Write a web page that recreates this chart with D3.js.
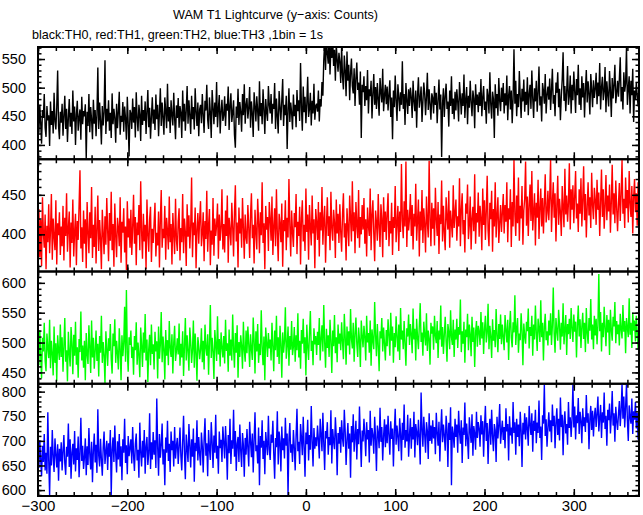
<!DOCTYPE html>
<html><head><meta charset="utf-8">
<script src="https://cdn.jsdelivr.net/npm/d3@7"></script>
<style>body{margin:0;background:#fff}svg{display:block}</style>
</head><body>
<svg id="c" width="643" height="515"></svg>
<script>
// time bins (1 bin = 1 s) start at -300 s
const timeStart = -300;
const th0 = [
455,421,470,438,402,461,447,489,430,414,468,443,452,398,476,435,459,420,491,441,427,466,530,433,410,458,
439,472,416,451,486,428,463,405,447,480,432,456,419,495,441,467,400,453,477,425,448,462,409,484,436,459,
450,471,376,458,433,489,422,466,444,410,479,437,461,415,453,535,428,474,442,401,468,434,457,548,419,463,
441,478,425,456,412,490,436,463,447,404,472,429,458,493,418,451,440,475,423,467,446,409,484,438,380,461,
455,428,481,439,466,413,492,447,424,470,453,407,486,435,461,442,476,419,458,496,431,465,411,449,483,437,
462,426,488,445,470,415,457,499,433,474,448,418,483,459,429,507,441,466,421,478,452,434,491,446,410,469,
447,482,430,468,456,412,495,441,472,425,460,503,437,478,451,419,486,445,466,427,499,458,433,474,415,462,
470,438,489,452,421,477,460,505,444,428,483,456,412,496,466,436,474,449,510,431,463,487,420,458,479,442,
451,485,433,472,460,502,426,468,490,440,456,478,418,395,467,447,498,435,475,458,423,489,452,506,437,470,
482,446,465,501,430,476,455,414,492,468,441,485,459,425,511,450,473,436,497,463,419,480,457,442,503,470,
455,489,437,472,463,508,428,481,450,420,494,466,443,478,515,433,470,452,486,393,461,499,440,474,456,427,
488,450,470,431,496,459,478,442,543,465,425,502,457,484,438,472,519,449,463,491,434,477,455,507,444,468,
472,458,495,441,480,467,510,486,548,579,531,585,560,542,590,523,571,552,583,538,566,512,575,549,528,561,
545,508,572,519,497,556,530,485,563,512,540,478,526,551,503,490,534,468,517,544,496,509,470,528,412,505,
492,520,468,503,478,531,455,497,485,512,446,489,524,470,501,463,508,480,451,517,492,474,533,459,486,505,
471,502,460,488,513,449,483,410,495,466,521,477,442,506,485,459,492,470,546,463,489,435,508,478,454,497,
468,500,483,447,512,476,459,495,430,487,518,465,481,502,440,474,509,490,452,484,526,461,497,471,444,490,
482,455,503,470,491,438,477,514,462,488,379,472,499,449,485,507,463,476,432,495,468,520,454,481,445,493,
460,497,475,441,510,484,453,490,468,523,447,479,501,436,486,465,512,474,450,495,481,429,506,470,488,457,
492,468,515,450,483,503,461,476,437,498,485,455,527,471,446,493,480,412,506,464,489,451,517,477,459,500,
475,508,455,490,469,521,443,486,503,462,495,438,481,567,472,512,450,489,466,529,484,447,498,476,514,458,
493,470,518,452,489,505,463,530,481,447,499,476,512,458,491,537,469,485,441,508,494,472,524,455,487,502,
479,516,461,495,533,472,487,450,509,491,527,466,498,443,484,514,562,477,503,459,492,538,470,486,521,455,
505,478,528,493,456,515,487,540,470,499,461,520,483,508,448,496,531,474,511,489,453,524,497,466,513,482,
498,526,471,509,485,543,462,500,519,478,494,536,457,511,488,467,529,495,449,517,481,505,540,473,490,512,
484,515,553,476,501,462,527,493,508,571,470,498,520,455,512,487,533,440,495,478,509,486,467,501,490,515
];
const th1 = [
395,432,371,418,360,447,402,383,425,356,411,390,438,376,405,451,368,420,397,380,443,362,414,399,428,374,
410,385,436,367,421,398,452,378,407,429,358,415,389,444,372,403,426,361,417,393,437,481,382,409,365,430,
388,419,357,441,403,376,428,395,460,370,412,384,435,363,406,449,379,418,394,356,431,401,375,423,387,446,
405,366,427,392,454,380,413,359,439,398,371,421,408,385,447,364,416,402,433,377,410,355,442,396,420,383,
431,374,409,450,388,422,361,415,399,437,380,467,404,369,426,391,412,356,444,400,378,419,435,365,407,389,
414,440,372,402,386,429,358,418,456,383,407,395,436,368,421,404,381,448,390,413,362,427,400,375,445,393,
379,416,433,367,408,390,451,376,420,403,360,438,397,424,382,410,472,371,415,399,434,357,406,427,388,419,
442,385,401,428,366,417,394,455,378,411,432,361,405,387,446,373,420,398,412,439,369,425,392,408,457,381,
413,377,430,398,449,364,421,405,386,440,410,372,427,462,391,415,358,434,401,420,383,446,408,369,425,396,
388,437,409,370,424,452,395,412,363,431,403,381,445,417,376,428,399,466,389,414,356,436,406,422,379,441,
419,392,448,374,410,433,385,457,401,366,426,414,390,439,359,418,404,443,380,421,396,470,411,372,430,402,
384,427,409,451,375,416,398,435,362,420,443,391,412,379,458,403,425,368,437,410,386,449,401,419,357,432,
415,393,441,372,428,405,460,387,419,436,364,411,447,398,423,380,454,407,392,431,415,370,444,401,426,389,
438,403,378,425,452,396,414,367,433,409,385,449,420,391,467,404,428,376,441,412,395,456,383,422,400,437,
406,446,388,419,372,434,411,398,458,380,425,443,401,366,430,415,392,451,409,384,438,420,371,447,403,429,
393,427,452,385,417,401,440,374,422,408,461,390,414,436,379,429,403,489,418,395,442,410,492,384,431,405,
420,451,398,437,381,426,410,464,392,418,444,372,429,405,456,389,433,412,377,448,415,396,493,421,385,440,
407,433,386,459,419,398,441,375,425,413,468,391,436,402,380,447,421,406,455,383,430,414,396,462,408,427,
444,392,423,410,471,385,431,452,400,418,377,439,426,463,394,412,448,381,420,435,404,476,388,427,415,453,
397,436,421,380,458,412,443,393,429,474,405,385,440,419,455,378,432,410,466,396,424,447,389,414,437,403,
428,451,401,437,416,466,390,433,419,457,384,441,410,494,425,398,449,414,472,392,436,420,461,387,430,445,
492,411,448,398,436,463,417,480,405,429,452,386,440,421,469,394,433,458,410,446,401,438,476,415,427,455,
418,447,495,403,439,466,421,452,391,436,474,412,445,428,398,461,433,409,483,425,449,416,440,490,406,457,
431,462,414,448,480,420,439,403,457,426,471,410,443,486,418,451,396,435,466,424,447,408,478,437,419,459,
444,412,469,431,453,398,440,482,422,457,407,436,475,418,449,429,463,402,441,488,425,452,414,468,433,404,
438,465,417,450,494,426,445,408,472,433,456,415,480,439,422,461,401,447,470,428,452,411,466,436,419,454
];
const th2 = [
497,462,521,478,440,508,485,533,469,452,515,491,474,538,457,503,482,445,527,466,499,436,512,487,471,530,
476,509,451,494,541,468,487,435,518,482,460,526,499,447,513,478,535,463,492,441,506,484,552,470,495,458,
503,437,516,480,464,529,492,449,537,475,508,456,486,520,469,498,443,511,483,545,466,501,478,432,519,489,
461,507,486,531,472,448,515,494,539,466,503,482,455,524,490,437,512,477,499,560,468,588,484,451,509,496,
520,474,493,446,511,487,534,463,500,479,442,525,496,459,517,483,548,470,505,434,489,513,462,530,481,497,
455,518,485,502,440,527,473,496,551,467,510,489,438,521,478,504,462,536,491,476,514,448,499,528,469,486,
507,480,532,461,498,475,519,444,493,541,470,512,486,453,525,501,466,488,537,458,515,483,436,509,494,472,
488,524,467,503,455,530,491,478,514,446,500,563,474,508,485,439,521,497,469,544,480,506,460,517,492,475,
511,465,538,486,499,451,522,478,505,470,547,490,458,516,483,529,441,501,476,512,494,456,535,487,468,520,
482,527,497,459,514,489,471,542,503,448,519,485,531,466,498,479,554,492,462,510,437,525,500,476,516,490,
505,470,533,494,452,520,487,545,476,509,464,528,498,441,517,483,502,559,473,495,527,461,511,488,536,479,
493,526,468,512,487,549,475,503,456,521,498,540,482,509,445,530,494,471,516,553,486,503,462,524,497,511,
479,518,496,541,470,507,529,485,563,500,458,523,491,512,476,538,503,449,520,494,546,482,509,467,530,498,
515,487,534,501,472,548,510,463,527,495,519,480,556,506,490,533,468,514,542,498,476,525,505,459,537,511,
492,528,509,470,545,500,516,483,537,461,522,504,489,568,512,477,531,496,452,519,507,541,485,525,498,470,
521,494,539,512,478,550,503,527,466,516,492,544,509,485,530,471,558,505,520,489,536,498,461,524,510,547,
496,531,514,482,557,505,523,470,540,509,489,528,566,501,517,478,535,512,495,549,486,520,507,463,533,515,
527,488,545,511,499,536,474,520,505,562,493,526,481,514,543,502,468,531,517,489,554,509,496,538,476,522,
505,540,491,526,513,572,484,519,498,535,466,522,509,548,487,530,514,477,543,501,525,459,517,536,493,528,
518,496,551,507,534,481,523,545,500,516,565,489,528,510,474,539,503,521,492,556,512,484,531,506,547,497,
530,509,487,546,521,500,538,471,525,553,508,492,534,517,579,496,523,541,483,515,504,549,520,462,532,511,
498,535,519,557,490,526,511,545,478,530,505,562,516,486,540,523,501,571,509,533,470,527,548,504,519,495,
537,512,549,496,528,592,515,483,541,520,503,555,529,488,533,510,566,497,522,546,479,531,514,540,506,558,
523,501,547,518,535,475,529,562,510,539,491,527,550,506,533,484,558,516,498,541,520,573,505,530,489,545,
512,540,497,528,615,519,551,485,533,509,560,524,494,546,517,538,479,555,521,503,543,527,568,499,536,514,
530,495,548,522,507,563,518,536,482,541,525,509,574,513,533,491,550,520,537,502,545,516,488,539,524,551
];
const th3 = [
682,645,701,663,628,690,657,714,640,676,633,758,661,590,688,650,722,667,637,705,672,646,693,619,684,658,
697,640,679,712,655,631,688,668,735,647,703,623,676,694,652,720,638,685,661,709,626,674,747,659,690,643,
667,705,630,689,651,726,673,642,698,616,681,715,656,692,635,764,670,648,704,662,629,687,719,653,678,700,
641,695,668,722,590,683,707,657,731,674,636,699,662,714,648,689,620,703,676,745,655,691,632,710,669,686,
703,654,728,671,639,694,715,660,682,625,737,677,648,700,666,722,633,689,708,651,675,756,643,697,662,718,
672,701,645,786,688,629,714,666,692,735,652,683,610,707,676,741,659,694,637,719,681,700,648,728,664,690,
706,653,688,727,669,640,699,751,675,622,713,684,657,734,691,646,703,668,725,617,696,679,742,660,708,673,
650,717,689,636,704,746,670,695,628,722,683,661,738,698,645,711,676,753,664,690,633,719,685,702,657,729,
697,664,730,688,621,712,675,745,653,701,684,763,668,720,639,694,708,657,733,680,647,716,691,627,706,672,
724,685,648,739,699,667,715,636,702,758,679,691,654,727,610,710,686,742,663,700,632,718,694,671,751,683,
661,713,696,741,674,623,706,687,760,652,719,698,638,729,681,705,664,747,690,715,588,702,736,676,693,657,
722,687,640,710,765,679,698,653,734,706,671,749,689,627,717,693,743,660,712,682,771,699,648,726,684,707,
689,731,702,664,745,713,679,757,696,641,720,705,738,672,708,691,762,654,724,699,683,748,711,630,716,694,
728,676,742,705,688,763,719,651,701,736,684,715,625,730,697,754,678,709,741,662,724,693,770,708,647,721,
699,745,712,669,738,703,722,656,761,690,726,711,674,749,705,639,731,716,685,767,698,728,660,710,744,687,
733,695,751,712,672,740,704,725,648,719,765,692,731,708,679,746,715,660,737,702,774,686,722,699,753,668,
711,746,684,728,703,759,666,734,718,691,743,707,652,798,725,688,749,713,676,738,720,663,756,700,731,694,
742,705,728,673,757,716,690,739,658,721,764,697,733,711,680,751,724,647,737,702,768,610,729,714,686,745,
708,733,676,761,719,694,742,655,727,712,778,689,735,703,663,748,721,696,754,670,730,715,682,759,706,738,
725,688,752,713,740,668,729,771,700,736,653,718,745,692,763,710,679,734,722,657,749,705,731,775,694,720,
741,702,728,685,766,719,734,660,750,711,727,694,779,716,738,672,745,708,733,689,759,722,647,737,713,756,
703,748,725,690,771,733,712,756,678,741,720,763,695,737,716,782,706,729,661,752,735,814,710,744,688,726,
758,719,742,697,774,730,751,685,737,766,712,745,701,788,728,753,671,739,760,715,734,692,779,726,748,708,
745,814,727,770,703,752,736,787,714,759,741,695,766,730,748,718,793,737,756,683,744,771,722,761,709,750,
767,728,755,790,719,746,773,706,758,737,798,724,751,690,763,742,776,715,749,801,731,756,698,769,740,722,
754,781,730,762,816,745,790,727,768,816,741,700,772,749,735,786,714,760,743,779,725,757,703,766,738,751
];
const seriesColors = ["#000000", "#ff0000", "#00ff00", "#0000ff"];
const yDomains = [[375, 571], [353, 495], [431, 619], [588, 816]];
const yMajorTicks = [[400, 450, 500, 550], [400, 450], [450, 500, 550, 600], [600, 650, 700, 750, 800]];
const xDomain = [-300, 373];
const xMajorTicks = [-300, -200, -100, 0, 100, 200, 300];
const titleText = "WAM T1 Lightcurve (y\u2212axis: Counts)";
const subtitleText = "black:TH0, red:TH1, green:TH2, blue:TH3 ,1bin = 1s";

const series = [th0, th1, th2, th3];
const svg = d3.select("#c");
const FONT = "'Liberation Sans', Arial, Helvetica, sans-serif";
const L = 38, R = 639, T = 47, PH = 112.25;
const x = d3.scaleLinear().domain(xDomain).range([L, R]);
const xMinor = d3.range(-300, 374, 20);

svg.append("text").attr("x", 173).attr("y", 18.5).attr("font-family", FONT).attr("font-size", 13.5)
  .attr("textLength", 205).attr("lengthAdjust", "spacingAndGlyphs").text(titleText);
svg.append("text").attr("x", 32).attr("y", 38.5).attr("font-family", FONT).attr("font-size", 13.5)
  .attr("textLength", 291).attr("lengthAdjust", "spacingAndGlyphs").text(subtitleText);

const defs = svg.append("defs");

series.forEach((data, k) => {
  const top = T + k * PH, bot = top + PH;
  const y = d3.scaleLinear().domain(yDomains[k]).range([bot, top]);
  const g = svg.append("g");
  defs.append("clipPath").attr("id", "clip" + k).append("rect")
    .attr("x", L).attr("y", top).attr("width", R - L).attr("height", PH);
  const line = d3.line().x((d, i) => x(timeStart + i)).y(d => y(d)).curve(d3.curveLinear);
  g.append("path").attr("d", line(data)).attr("fill", "none").attr("stroke", seriesColors[k])
    .attr("stroke-width", 1.4).attr("stroke-linejoin", "miter").attr("stroke-miterlimit", 1)
    .attr("clip-path", "url(#clip" + k + ")");

  const yMinor = d3.range(Math.ceil(yDomains[k][0] / 10) * 10, yDomains[k][1], 10);
  const mk = (axis, tx, ty) => {
    const a = g.append("g").attr("transform", `translate(${tx},${ty})`).call(axis);
    a.select(".domain").remove();
    a.selectAll("line").attr("stroke-width", 1.5);
    a.selectAll("text").attr("font-family", FONT).attr("font-size", 14.5).attr("fill", "#000");
    return a;
  };
  // y axes
  mk(d3.axisLeft(y).tickValues(yMinor).tickSize(-3.5).tickFormat(""), L, 0);
  mk(d3.axisLeft(y).tickValues(yMajorTicks[k]).tickSize(-7).tickPadding(12).tickFormat(d3.format("d")), L, 0);
  mk(d3.axisRight(y).tickValues(yMinor).tickSize(-3.5).tickFormat(""), R, 0);
  mk(d3.axisRight(y).tickValues(yMajorTicks[k]).tickSize(-7).tickFormat(""), R, 0);
  // x axes
  mk(d3.axisTop(x).tickValues(xMinor).tickSize(-4).tickFormat(""), 0, top);
  mk(d3.axisTop(x).tickValues(xMajorTicks).tickSize(-7).tickFormat(""), 0, top);
  mk(d3.axisBottom(x).tickValues(xMinor).tickSize(-4).tickFormat(""), 0, bot);
  const xb = mk(d3.axisBottom(x).tickValues(xMajorTicks).tickSize(-7).tickPadding(4.5)
    .tickFormat(k === 3 ? d3.format("d") : ""), 0, bot);
  xb.selectAll("text").attr("font-size", 15);
  // frame
  g.append("rect").attr("x", L).attr("y", top).attr("width", R - L).attr("height", PH)
    .attr("fill", "none").attr("stroke", "#000").attr("stroke-width", 2);
});
</script>
</body></html>
